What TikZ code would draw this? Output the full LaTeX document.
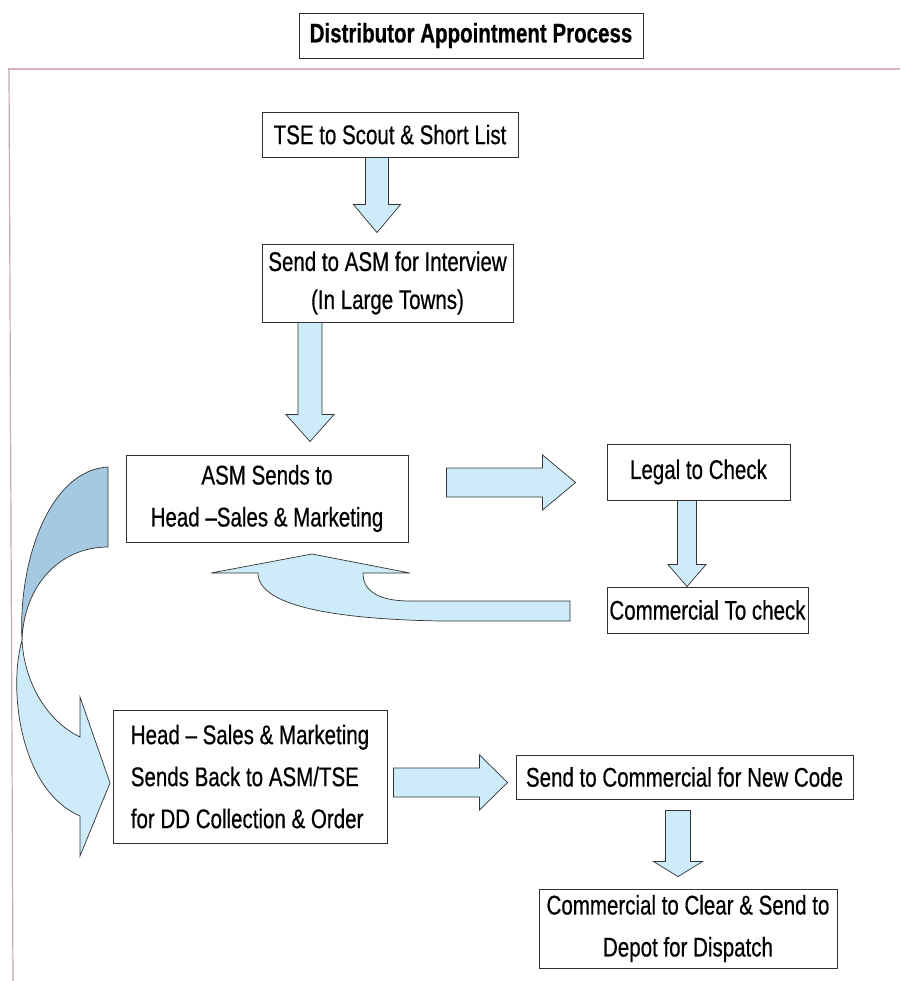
\documentclass[tikz,border=0pt]{standalone}
\usepackage{fontspec}
\setmainfont{Liberation Sans}[FakeStretch=0.76, FakeBold=0.5]
\usetikzlibrary{calc}
\definecolor{arrowfill}{HTML}{CDEBF8}
\definecolor{darkfill}{HTML}{A6C9E2}
\definecolor{framepink}{HTML}{D9B3C3}
\definecolor{boxline}{HTML}{303030}
\tikzset{
  procbox/.style={draw=boxline, line width=0.9pt, fill=white, align=center, inner sep=0pt,
    font=\fontsize{27}{42}\selectfont},
  blockarrow/.style={fill=arrowfill, draw=black!80, line width=0.7pt, line join=miter},
  curvearrow/.style={draw=black!80, line width=0.7pt, line join=miter},
  frameline/.style={draw=framepink, line width=1.2pt},
}
% vertical block arrow: start, tip, shaft half width, head half width, head length
\newcommand{\vblockarrow}[5]{\path[blockarrow] let \p1=#1, \p2=#2 in
  (\x1-#3pt,\y1) -- (\x1+#3pt,\y1) -- (\x1+#3pt,\y2+#5pt) -- (\x1+#4pt,\y2+#5pt)
  -- (\x2,\y2) -- (\x1-#4pt,\y2+#5pt) -- (\x1-#3pt,\y2+#5pt) -- cycle;}
% horizontal block arrow: start, tip, shaft half width, head half width, head length
\newcommand{\hblockarrow}[5]{\path[blockarrow] let \p1=#1, \p2=#2 in
  (\x1,\y1+#3pt) -- (\x2-#5pt,\y1+#3pt) -- (\x2-#5pt,\y1+#4pt) -- (\x2,\y2)
  -- (\x2-#5pt,\y1-#4pt) -- (\x2-#5pt,\y1-#3pt) -- (\x1,\y1-#3pt) -- cycle;}
\begin{document}
\begin{tikzpicture}[x=1pt,y=-1pt]
\useasboundingbox (0,0) rectangle (900,981);
\fill[white] (0,0) rectangle (900,981);

% frame
\draw[frameline] (8,69) -- (900,69);
\draw[frameline, draw=framepink!80!gray] (9,69) -- (13,981);

% title
\node[procbox, font=\fontsize{27}{30}\selectfont\bfseries, minimum width=344pt, minimum height=45pt]
  (title) at (471,35.5) {\raisebox{-6pt}{Distributor Appointment Process}};

% coordinates used by the block arrows
\coordinate (xa) at (377,0);
\coordinate (xb) at (310,0);
\coordinate (xc) at (687,0);
\coordinate (xd) at (678,0);
\coordinate (ya) at (0,482.5);
\coordinate (yb) at (0,782.5);

% process boxes (positions)
\path
  (390,134.5) coordinate (ptse)
  (387.5,283) coordinate (pint)
  (267,498.5) coordinate (pasm)
  (698.5,472) coordinate (plegal)
  (707.5,610) coordinate (pcomm)
  (250,776.5) coordinate (phead)
  (684.5,777) coordinate (pcode)
  (688,928.5) coordinate (pfinal);

% invisible placeholders to get anchors before drawing arrows
\path
  node[procbox, draw=none, fill=none, minimum width=256pt, minimum height=45pt] (tse) at (ptse) {}
  node[procbox, draw=none, fill=none, minimum width=251pt, minimum height=78pt] (asmint) at (pint) {}
  node[procbox, draw=none, fill=none, minimum width=282pt, minimum height=87pt] (asm) at (pasm) {}
  node[procbox, draw=none, fill=none, minimum width=183pt, minimum height=56pt] (legal) at (plegal) {}
  node[procbox, draw=none, fill=none, minimum width=201pt, minimum height=46pt] (commchk) at (pcomm) {}
  node[procbox, draw=none, fill=none, minimum width=274pt, minimum height=133pt] (head) at (phead) {}
  node[procbox, draw=none, fill=none, minimum width=337pt, minimum height=44pt] (newcode) at (pcode) {}
  node[procbox, draw=none, fill=none, minimum width=298pt, minimum height=79pt] (final) at (pfinal) {};

% straight block arrows
\vblockarrow{(tse.south -| xa)}{($(asmint.north -| xa)+(0,-11)$)}{11.5}{23.5}{28}
\vblockarrow{(asmint.south -| xb)}{($(asm.north -| xb)+(0,-13)$)}{12}{24}{27}
\vblockarrow{(legal.south -| xc)}{(commchk.north -| xc)}{9.5}{19}{22}
\vblockarrow{($(newcode.south -| xd)+(0,11)$)}{($(final.north -| xd)+(0,-12)$)}{12.5}{24.5}{15}
\hblockarrow{($(asm.east |- ya)+(38,0)$)}{($(legal.west |- ya)+(-31,0)$)}{14.5}{27.5}{33}
\hblockarrow{($(head.east |- yb)+(6,0)$)}{($(newcode.west |- yb)+(-8,0)$)}{14.5}{27.5}{28}

% U-turn arrow: Commercial To check back to ASM
\path[curvearrow, fill=arrowfill]
  (211,573) -- (312,554) -- (410,573) -- (363,573)
  .. controls (363,592) and (380,601) .. (410,601)
  -- (570,601) -- (570,621) -- (440,621)
  .. controls (330,619) and (258,605) .. (258,573) -- cycle;

% curved arrow from ASM box down to Head box
\path[curvearrow, fill=darkfill]
  (108,467) -- (108,547)
  .. controls (60,547) and (24,585) .. (22,640)
  .. controls (18,560) and (50,470) .. (108,467) -- cycle;
\path[curvearrow, fill=arrowfill]
  (22,640) .. controls (8,690) and (20,790) .. (80,816)
  -- (80,856) -- (110,783) -- (80,697) -- (80,737)
  .. controls (45,720) and (24,680) .. (22,640) -- cycle;

% visible boxes
\node[procbox, minimum width=256pt, minimum height=45pt] (tseb) at (ptse) {TSE to Scout \& Short List};
\node[procbox, minimum width=251pt, minimum height=78pt] (asmintb) at (pint)
  {Send to ASM for Interview\\[-4pt](In Large Towns)};
\node[procbox, minimum width=282pt, minimum height=87pt] (asmb) at (pasm)
  {ASM Sends to\\Head –Sales \& Marketing};
\node[procbox, minimum width=183pt, minimum height=56pt] (legalb) at (plegal) {Legal to Check};
\node[procbox, minimum width=201pt, minimum height=46pt] (commchkb) at (pcomm) {Commercial To check};
\node[procbox, align=left, minimum width=274pt, minimum height=133pt] (headb) at (phead)
  {Head – Sales \& Marketing\\Sends Back to ASM/TSE\\for DD Collection \& Order};
\node[procbox, minimum width=337pt, minimum height=44pt] (newcodeb) at (pcode)
  {Send to Commercial for New Code};
\node[procbox, minimum width=298pt, minimum height=79pt] (finalb) at (pfinal)
  {Commercial to Clear \& Send to\\Depot for Dispatch};
\end{tikzpicture}
\end{document}
